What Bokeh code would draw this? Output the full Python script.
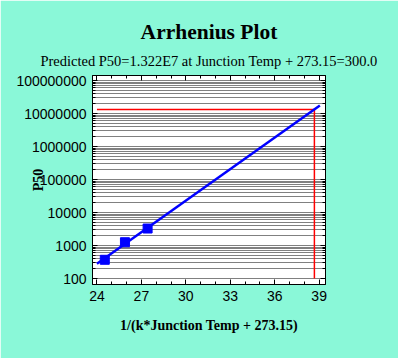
from bokeh.plotting import figure
from bokeh.models import (LinearAxis, LogAxis, FixedTicker, BasicTickFormatter,
                          CustomJSTickFormatter, Range1d, Title)
from bokeh.embed import file_html
from bokeh.resources import INLINE

# ---- data ----
test_inv_kt = [24.53, 25.89, 27.42]          # 1/(k*T) for test temperatures
test_p50 = [370, 1260, 3280]                  # observed P50
fit_inv_kt = [24.0, 39.05]                    # fitted Arrhenius line ends
fit_p50 = [280, 1.74e7]
pred_inv_kt = [24.0, 38.68, 38.68]            # prediction guide (red)
pred_p50 = [1.322e7, 1.322e7, 100]
x_ticks = [24, 27, 30, 33, 36, 39]
y_ticks = [100, 1000, 10000, 100000, 1000000, 10000000, 100000000]

BG = "#8AF8D8"
title_text = "Arrhenius Plot"
subtitle_text = "Predicted P50=1.322E7 at Junction Temp + 273.15=300.0"
x_label = "1/(k*Junction Temp + 273.15)"
y_label = "P50"

y_minor = [m * t for t in y_ticks[:-1] for m in range(2, 10)] + [2e8]
x_minor = list(range(23, 41))

p = figure(width=398, height=358, y_axis_type="log",
           x_range=Range1d(23.7, 39.43), y_range=Range1d(66, 1.42e8),
           output_backend="svg", toolbar_location=None, title=None,
           min_border_left=92, min_border_right=73,
           min_border_top=75, min_border_bottom=74,
           background_fill_color="white", border_fill_color=BG,
           outline_line_color="black", outline_line_width=1)

xt = FixedTicker(ticks=x_ticks, minor_ticks=x_minor)
yt = FixedTicker(ticks=y_ticks, minor_ticks=y_minor)
blank = CustomJSTickFormatter(code="return ''")

def style_axis(ax, labels=True):
    ax.axis_line_color = "black"
    ax.major_tick_in = 5
    ax.major_tick_out = 0
    ax.minor_tick_in = 3
    ax.minor_tick_out = 0
    ax.major_tick_line_color = "black"
    ax.minor_tick_line_color = "black"
    if labels:
        ax.major_label_text_font = "Liberation Sans"
        ax.major_label_text_font_size = "14px"
        ax.major_label_text_color = "black"
        ax.axis_label_text_font = "Liberation Serif"
        ax.axis_label_text_font_style = "bold"
        ax.axis_label_text_font_size = "14px"
        ax.axis_label_text_color = "black"
    else:
        ax.formatter = blank
        ax.major_label_text_font_size = "1px"
        ax.major_label_standoff = 0

xa = p.xaxis[0]
xa.ticker = xt
style_axis(xa)
xa.axis_label = x_label
xa.major_label_standoff = 6
xa.axis_label_standoff = 14

ya = p.yaxis[0]
ya.ticker = yt
ya.formatter = BasicTickFormatter(use_scientific=False)
style_axis(ya)
ya.axis_label = y_label
ya.major_label_standoff = 6
ya.axis_label_standoff = -33

top = LinearAxis(ticker=xt)
style_axis(top, labels=False)
p.add_layout(top, "above")
right = LogAxis(ticker=yt)
style_axis(right, labels=False)
p.add_layout(right, "right")

p.xgrid.grid_line_color = None
p.ygrid.ticker = yt
p.ygrid.grid_line_color = "#808080"
p.ygrid.minor_grid_line_color = "#808080"
p.ygrid.grid_line_width = 1
p.ygrid.minor_grid_line_width = 1

p.add_layout(Title(text=subtitle_text, text_font="Liberation Serif",
                   text_font_size="14.5px", text_font_style="normal",
                   text_color="black", align="center", standoff=14), "above")
p.add_layout(Title(text=title_text, text_font="Liberation Serif",
                   text_font_size="21.5px", text_font_style="bold",
                   text_color="black", align="center", standoff=0), "above")

p.line(pred_inv_kt, pred_p50, line_color="#FF0000", line_width=1.5)
p.line(fit_inv_kt, fit_p50, line_color="#0000FF", line_width=2.5)
p.scatter(test_inv_kt, test_p50, marker="square", size=9,
          fill_color="#0000FF", line_color="#0000FF")

open("out.html", "w").write(file_html(p, INLINE))
